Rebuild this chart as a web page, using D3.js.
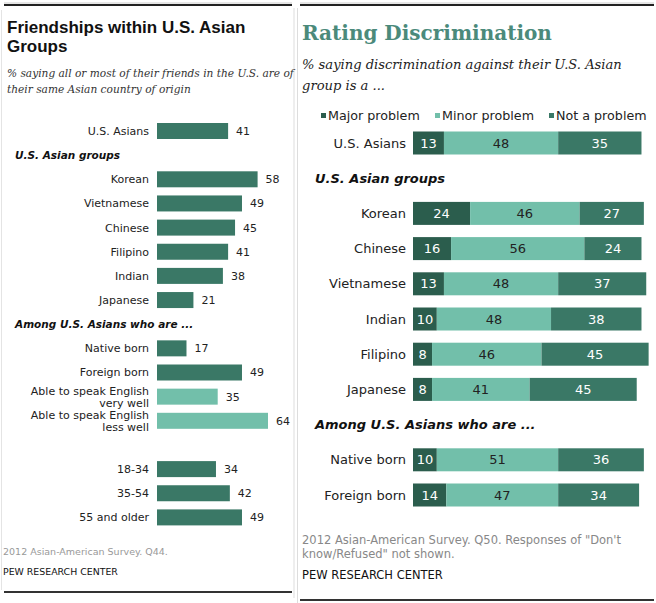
<!DOCTYPE html>
<html><head><meta charset="utf-8">
<script src="https://cdn.jsdelivr.net/npm/d3@7"></script>
<style>body{margin:0;background:#fff}svg{display:block}</style>
</head><body><div id="c"></div>
<script>
// ---------- Left chart data ----------
const friendCats = ["U.S. Asians","Korean","Vietnamese","Chinese","Filipino","Indian","Japanese",
  "Native born","Foreign born","Able to speak English|very well","Able to speak English|less well",
  "18-34","35-54","55 and older"];
const friendValues = [41,58,49,45,41,38,21,17,49,35,64,34,42,49];
const friendLight = [false,false,false,false,false,false,false,false,false,true,true,false,false,false];
const friendSlots = ["U.S. Asians","#h1","Korean","Vietnamese","Chinese","Filipino","Indian","Japanese",
  "#h2","Native born","Foreign born","Able to speak English|very well","Able to speak English|less well",
  "#gap","18-34","35-54","55 and older"];
const friendHeaders = [{slot:"#h1",text:"U.S. Asian groups"},{slot:"#h2",text:"Among U.S. Asians who are ..."}];

// ---------- Right chart data ----------
const discCats = ["U.S. Asians","Korean","Chinese","Vietnamese","Indian","Filipino","Japanese","Native born","Foreign born"];
const majorProblem = [13,24,16,13,10,8,8,10,14];
const minorProblem = [48,46,56,48,48,46,41,51,47];
const notAProblem = [35,27,24,37,38,45,45,36,34];
const seriesNames = ["Major problem","Minor problem","Not a problem"];
const discSlots = ["U.S. Asians","#h1","Korean","Chinese","Vietnamese","Indian","Filipino","Japanese","#h2","Native born","Foreign born"];
const discHeaders = [{slot:"#h1",text:"U.S. Asian groups"},{slot:"#h2",text:"Among U.S. Asians who are ..."}];

const W=656,H=603;
const svg=d3.select("#c").append("svg").attr("width",W).attr("height",H);
svg.append("rect").attr("width",W).attr("height",H).attr("fill","#fff");

const sans="Verdana, 'DejaVu Sans', sans-serif";
const arialB="'Liberation Sans', Arial, sans-serif";
const serif="Georgia, 'DejaVu Serif', serif";
const C_MED="#3a7866", C_LIGHT="#72bfaa", C_DARK="#2b5d4d";

// panel frames
function frame(x1,x2,yTop,yBot){
  svg.append("line").attr("x1",x1).attr("x2",x2).attr("y1",yTop-2).attr("y2",yTop-2).attr("stroke","#ccc").attr("stroke-width",1);
  svg.append("line").attr("x1",x1).attr("x2",x2).attr("y1",yTop).attr("y2",yTop).attr("stroke","#222").attr("stroke-width",2);
  svg.append("line").attr("x1",x1).attr("x2",x2).attr("y1",yBot).attr("y2",yBot).attr("stroke","#333").attr("stroke-width",2);
}
frame(4,292,5,592);
frame(300,654,5,600);
svg.append("line").attr("x1",294).attr("x2",294).attr("y1",8).attr("y2",598).attr("stroke","#ddd");
svg.append("line").attr("x1",297.5).attr("x2",297.5).attr("y1",8).attr("y2",603).attr("stroke","#ddd");
svg.append("line").attr("x1",1.5).attr("x2",1.5).attr("y1",10).attr("y2",590).attr("stroke","#e4e4e4");

// ---------- LEFT ----------
const L=svg.append("g");
L.append("text").attr("x",7).attr("y",33).attr("font-family",arialB).attr("font-weight","bold").attr("font-size",17).attr("fill","#111").text("Friendships within U.S. Asian");
L.append("text").attr("x",7).attr("y",52).attr("font-family",arialB).attr("font-weight","bold").attr("font-size",17).attr("fill","#111").text("Groups");
L.append("text").attr("x",7).attr("y",77).attr("font-family",serif).attr("font-style","italic").attr("font-size",10.6).attr("fill","#333").text("% saying all or most of their friends in the U.S. are of");
L.append("text").attr("x",7).attr("y",93).attr("font-family",serif).attr("font-style","italic").attr("font-size",10.6).attr("fill","#333").text("their same Asian country of origin");

const ly=d3.scalePoint().domain(friendSlots).range([131,517.4]);
const lx=d3.scaleLinear().domain([0,64]).range([157,268]);
const lbh=16;
friendCats.forEach((c,i)=>{
  const y=ly(c);
  L.append("rect").attr("x",lx(0)).attr("y",y-lbh/2).attr("width",lx(friendValues[i])-lx(0)).attr("height",lbh)
    .attr("fill",friendLight[i]?C_LIGHT:C_MED);
  L.append("text").attr("x",lx(friendValues[i])+8).attr("y",y).attr("dy","0.36em").attr("font-family",sans).attr("font-size",11).attr("fill","#222").text(friendValues[i]);
  const parts=c.split("|");
  parts.forEach((p,k)=>{
    L.append("text").attr("x",149).attr("y",y+(parts.length===1?0:(k===0?-6:6))).attr("dy","0.36em")
      .attr("text-anchor","end").attr("font-family",sans).attr("font-size",11).attr("fill","#222").text(p);
  });
});
friendHeaders.forEach(h=>{
  L.append("text").attr("x",15).attr("y",ly(h.slot)).attr("dy","0.36em").attr("font-family",sans).attr("font-weight","bold").attr("font-style","italic").attr("font-size",10.5).attr("fill","#111").text(h.text);
});
L.append("text").attr("x",3).attr("y",552).attr("dy","0.36em").attr("font-family",sans).attr("font-size",9.5).attr("fill","#999").text("2012 Asian-American Survey. Q44.");
L.append("text").attr("x",3).attr("y",572).attr("dy","0.36em").attr("font-family",sans).attr("font-size",9.4).attr("fill","#111").text("PEW RESEARCH CENTER");

// ---------- RIGHT ----------
const R=svg.append("g");
R.append("text").attr("x",302).attr("y",40).attr("font-family",serif).attr("font-weight","bold").attr("font-size",20).attr("fill","#4b8a7b").text("Rating Discrimination");
R.append("text").attr("x",302).attr("y",69).attr("font-family",serif).attr("font-style","italic").attr("font-size",13.1).attr("fill","#222").text("% saying discrimination against their U.S. Asian");
R.append("text").attr("x",302).attr("y",90).attr("font-family",serif).attr("font-style","italic").attr("font-size",13.1).attr("fill","#222").text("group is a ...");

const colors=[C_DARK,C_LIGHT,C_MED];
const textCol=["#fff","#222","#fff"];
// legend
const legX=[321,435,549];
seriesNames.forEach((s,i)=>{
  R.append("rect").attr("x",legX[i]).attr("y",113).attr("width",5).attr("height",5).attr("fill",colors[i]);
  R.append("text").attr("x",legX[i]+7).attr("y",115).attr("dy","0.36em").attr("font-family",sans).attr("font-size",12.7).attr("fill","#222").text(s);
});

const ry=d3.scalePoint().domain(discSlots).range([143,495]);
const rx=d3.scaleLinear().domain([0,100]).range([413,651]);
const rbh=23;
const stackData=discCats.map((c,i)=>({cat:c,"Major problem":majorProblem[i],"Minor problem":minorProblem[i],"Not a problem":notAProblem[i]}));
const stacked=d3.stack().keys(seriesNames)(stackData);
stacked.forEach((layer,si)=>{
  layer.forEach(d=>{
    const y=ry(d.data.cat);
    R.append("rect").attr("x",rx(d[0])).attr("y",y-rbh/2).attr("width",rx(d[1])-rx(d[0])).attr("height",rbh).attr("fill",colors[si]);
    R.append("text").attr("x",(rx(d[0])+rx(d[1]))/2).attr("y",y).attr("dy","0.36em").attr("text-anchor","middle")
      .attr("font-family",sans).attr("font-size",13).attr("fill",textCol[si]).text(d[1]-d[0]);
  });
});
discCats.forEach(c=>{
  R.append("text").attr("x",406).attr("y",ry(c)).attr("dy","0.36em").attr("text-anchor","end").attr("font-family",sans).attr("font-size",13).attr("fill","#222").text(c);
});
discHeaders.forEach(h=>{
  R.append("text").attr("x",315).attr("y",ry(h.slot)).attr("dy","0.36em").attr("font-family",sans).attr("font-weight","bold").attr("font-style","italic").attr("font-size",13).attr("fill","#111").text(h.text);
});
R.append("text").attr("x",302).attr("y",540).attr("dy","0.36em").attr("font-family",sans).attr("font-size",11.5).attr("fill","#888").text('2012 Asian-American Survey. Q50. Responses of "Don\'t');
R.append("text").attr("x",302).attr("y",554).attr("dy","0.36em").attr("font-family",sans).attr("font-size",11.5).attr("fill","#888").text('know/Refused" not shown.');
R.append("text").attr("x",302).attr("y",575).attr("dy","0.36em").attr("font-family",sans).attr("font-size",11.5).attr("fill","#111").text("PEW RESEARCH CENTER");
</script></body></html>
